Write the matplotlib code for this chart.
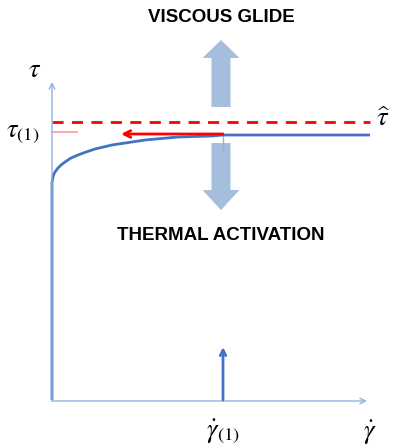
import matplotlib
matplotlib.use("Agg")
import matplotlib.pyplot as plt
from matplotlib.patches import FancyArrow

plt.rcParams['mathtext.fontset'] = 'stix'

# Flow stress vs. strain rate (arbitrary units)
curve_x = [0, 0, 0.7, 1.5, 3, 6, 9, 13, 19, 26, 34, 43, 60, 93, 126, 160, 171, 318]
curve_y = [0, 217, 222, 225, 228, 232, 235, 238, 242, 245, 248, 251, 255, 260, 263, 264, 265, 265]

gamma_dot_1 = 171      # reference strain rate
tau_1 = 268            # stress at reference rate
tau_hat = 278          # athermal limit
x_end = 318
arrow_from, arrow_to = 171, 69

curve_color = '#4472C4'
axis_color = '#8DB4E2'
block_color = '#A6BEDD'

fig = plt.figure(figsize=(3.99, 4.47), dpi=100)
ax = fig.add_axes([0, 0, 1, 1])
ax.set_xlim(-52, 347)
ax.set_ylim(-47, 400)
ax.axis('off')

# axes with open arrowheads
ax.annotate('', xy=(0, 318), xytext=(0, -1),
            arrowprops=dict(arrowstyle='->', color=axis_color, lw=1.0,
                            shrinkA=0, shrinkB=0, mutation_scale=10))
ax.annotate('', xy=(315, -1), xytext=(0, -1),
            arrowprops=dict(arrowstyle='->', color=axis_color, lw=1.0,
                            shrinkA=0, shrinkB=0, mutation_scale=10))

# wide block arrows
ax.add_patch(FancyArrow(169, 293, 0, 67, width=19, head_width=37,
                        head_length=18, length_includes_head=True,
                        color=block_color, lw=0))
ax.add_patch(FancyArrow(169, 257, 0, -67, width=19, head_width=37,
                        head_length=20, length_includes_head=True,
                        color=block_color, lw=0))

# marker at reference rate on the plateau
ax.plot([gamma_dot_1, gamma_dot_1], [250, 265], color=axis_color, lw=1.0)

# curve
ax.plot(curve_x, curve_y, color=curve_color, lw=2.0, solid_capstyle='butt',
        solid_joinstyle='round')

# limits
ax.plot([0, x_end], [tau_hat, tau_hat], color='#FF0000', lw=2.0,
        dashes=(4, 3))
ax.plot([0, 25], [tau_1, tau_1], color='#FF9999', lw=1.2)

# red arrow along plateau
ax.annotate('', xy=(arrow_to, 266), xytext=(arrow_from, 266),
            arrowprops=dict(arrowstyle='->', color='#FF0000', lw=2.0,
                            shrinkA=0, shrinkB=0, mutation_scale=12))

# rate arrow on the x-axis
ax.annotate('', xy=(gamma_dot_1, 53), xytext=(gamma_dot_1, 0),
            arrowprops=dict(arrowstyle='->', color=curve_color, lw=2.0,
                            shrinkA=0, shrinkB=0, mutation_scale=10))

# labels
ax.text(169, 383, 'VISCOUS GLIDE', ha='center', va='center',
        family='Liberation Sans', weight='bold', fontsize=13.5)
ax.text(169, 164, 'THERMAL ACTIVATION', ha='center', va='center',
        family='Liberation Sans', weight='bold', fontsize=13.5)
ax.text(-17, 330, r'$\tau$', ha='center', va='center', fontsize=19)
ax.text(-29, 267, r'$\tau_{(1)}$', ha='center', va='center', fontsize=19)
ax.text(331, 281, r'$\widehat{\tau}$', ha='center', va='center', fontsize=19)
ax.text(gamma_dot_1, -32, r'$\dot{\gamma}_{(1)}$', ha='center', va='center', fontsize=19)
ax.text(318, -33, r'$\dot{\gamma}$', ha='center', va='center', fontsize=19)

fig.savefig('out.png', dpi=100)
